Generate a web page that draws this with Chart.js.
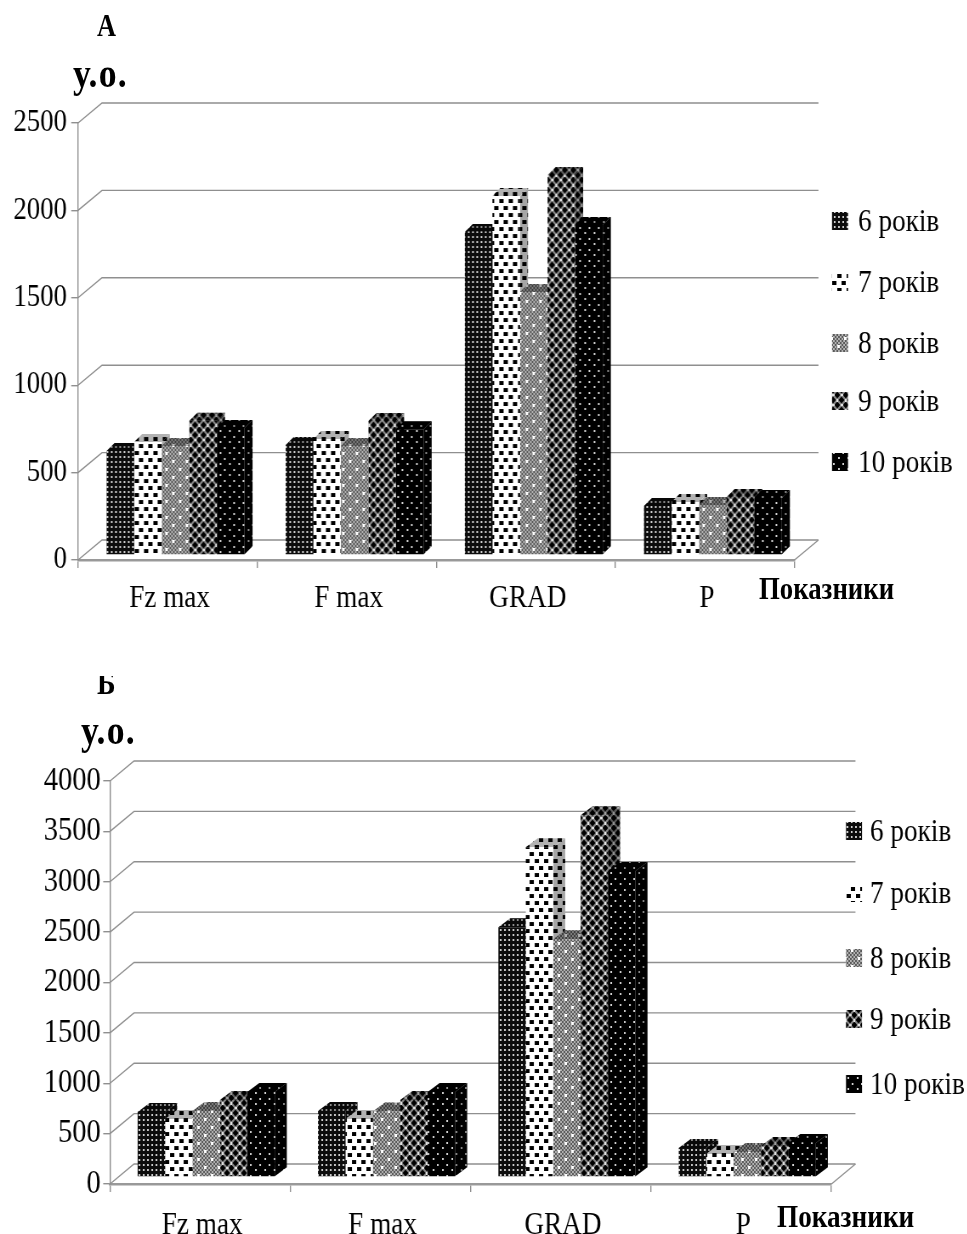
<!DOCTYPE html>
<html>
<head>
<meta charset="utf-8">
<script src="https://cdn.jsdelivr.net/npm/chart.js@4"></script>
<style>
  html, body { margin: 0; padding: 0; background: #fff; overflow: hidden; height: 1234px; }
  #page { position: absolute; left: 0; top: 0; height: 1234px; transform-origin: 0 0; }
  #page canvas { position: absolute; left: 0; }
  .lbl { position: absolute; font-family: "Liberation Serif", serif; font-weight: bold; color: #000; white-space: nowrap; line-height: 1; }
</style>
</head>
<body>
<div id="page">
  <canvas id="chartA"></canvas>
  <canvas id="chartB"></canvas>
</div>
<script>
// Дані
const categories = ["Fz max", "F max", "GRAD", "P"];
const seriesNames = ["6 років", "7 років", "8 років", "9 років", "10 років"];

const panelA6 = [595, 630, 1848, 280];
const panelA7 = [646, 663, 2054, 303];
const panelA8 = [624, 624, 1505, 286];
const panelA9 = [768, 766, 2174, 332];
const panelA10 = [726, 720, 1888, 326];

const panelB6 = [645, 655, 2480, 288];
const panelB7 = [575, 575, 3274, 228];
const panelB8 = [655, 650, 2361, 248];
const panelB9 = [764, 764, 3591, 307];
const panelB10 = [843, 843, 3036, 337];

// Оригінал стиснутий по горизонталі, тож стискаємо всю сторінку
const SQUEEZE = 0.85;
const X = v => v / SQUEEZE;
const page = document.getElementById('page');
page.style.width = X(967) + 'px';
page.style.transform = 'scaleX(' + SQUEEZE + ')';

const SERIF = '"Liberation Serif", serif';
const GREY = '#8f8f8f';

function tile(w, h, paint) {
  const c = document.createElement('canvas');
  c.width = w;
  c.height = h;
  const g = c.getContext('2d');
  paint(g);
  return g.createPattern(c, 'repeat');
}

function rects(g, color, w, h, spots) {
  g.fillStyle = color;
  spots.forEach(p => g.fillRect(p[0], p[1], w, h));
}

function diamond(g, color, cx, cy, r) {
  g.fillStyle = color;
  g.beginPath();
  g.moveTo(cx - r, cy);
  g.lineTo(cx, cy - r);
  g.lineTo(cx + r, cy);
  g.lineTo(cx, cy + r);
  g.closePath();
  g.fill();
}

const patterns = [
  // 6 років
  tile(5, 5, g => {
    g.fillStyle = '#0c0c0c';
    g.fillRect(0, 0, 5, 5);
    rects(g, '#d0d0d0', 2, 2, [[1, 1]]);
  }),
  // 7 років
  tile(11, 14, g => {
    g.fillStyle = '#fff';
    g.fillRect(0, 0, 11, 14);
    rects(g, '#000', 5, 4, [[0, 1], [6, 8]]);
  }),
  // 8 років
  tile(16, 16, g => {
    for (let i = 0; i < 8; i++) {
      for (let j = 0; j < 8; j++) {
        g.fillStyle = (i + j) % 2 ? '#5a5a5a' : '#b4b4b4';
        g.fillRect(i * 2, j * 2, 2, 2);
      }
    }
    rects(g, '#fff', 3, 3, [[1, 1], [9, 9]]);
  }),
  // 9 років
  tile(10, 10, g => {
    g.fillStyle = '#8a8a8a';
    g.fillRect(0, 0, 10, 10);
    [[0, 0], [10, 0], [0, 10], [10, 10], [5, 5]].forEach(p => diamond(g, '#000', p[0], p[1], 3.5));
    rects(g, '#e4e4e4', 2, 2, [[4, 0], [4, 9], [0, 4], [9, 4]]);
  }),
  // 10 років
  tile(11, 11, g => {
    g.fillStyle = '#000';
    g.fillRect(0, 0, 11, 11);
    rects(g, '#d4d4d4', 2, 2, [[1, 1], [7, 6]]);
  })
];

// Задня стінка, підлога та бокові грані стовпців
const depthPlugin = {
  id: 'depth',
  beforeDatasetsDraw(chart, args, o) {
    const ctx = chart.ctx;
    const y = chart.scales.y;
    const area = chart.chartArea;
    ctx.save();
    ctx.strokeStyle = GREY;
    ctx.lineWidth = 1.4;
    y.ticks.forEach(t => {
      const py = y.getPixelForValue(t.value);
      ctx.beginPath();
      ctx.moveTo(area.left, py);
      ctx.lineTo(area.left + o.wallX, py - o.wallY);
      ctx.lineTo(area.right + o.wallX, py - o.wallY);
      ctx.stroke();
    });
    ctx.beginPath();
    ctx.moveTo(area.right, area.bottom);
    ctx.lineTo(area.right + o.wallX, area.bottom - o.wallY);
    ctx.stroke();
    ctx.restore();

    ctx.save();
    ctx.translate(o.shiftX, -o.shiftY);
    chart.data.datasets.forEach((ds, i) => {
      chart.getDatasetMeta(i).data.forEach(bar => {
        const x0 = bar.x - bar.width / 2;
        const x1 = bar.x + bar.width / 2;
        const face = (points, shade) => {
          ctx.beginPath();
          points.forEach((p, n) => n ? ctx.lineTo(p[0], p[1]) : ctx.moveTo(p[0], p[1]));
          ctx.closePath();
          ctx.fillStyle = ds.backgroundColor;
          ctx.fill();
          ctx.fillStyle = shade;
          ctx.fill();
        };
        face([[x1, bar.y], [x1 + o.barX, bar.y - o.barY], [x1 + o.barX, bar.base - o.barY], [x1, bar.base]], 'rgba(0,0,0,0.35)');
        face([[x0, bar.y], [x0 + o.barX, bar.y - o.barY], [x1 + o.barX, bar.y - o.barY], [x1, bar.y]], 'rgba(0,0,0,0.3)');
      });
    });
    ctx.restore();

    ctx.save();
    ctx.translate(o.shiftX, -o.shiftY);
  },
  afterDatasetsDraw(chart) {
    chart.ctx.restore();
  },
  afterDraw(chart, args, o) {
    const ctx = chart.ctx;
    ctx.save();
    ctx.textBaseline = 'middle';
    ctx.textAlign = 'left';
    ctx.font = o.legendFont + 'px ' + SERIF;
    chart.data.datasets.forEach((ds, i) => {
      const ly = o.legendY[i];
      ctx.fillStyle = ds.backgroundColor;
      ctx.fillRect(o.legendX, ly - 9, X(16), 18);
      ctx.fillStyle = '#000';
      ctx.fillText(ds.label, o.legendX + o.legendGap, ly + 2);
    });
    ctx.restore();
  }
};

function buildPanel(id, top, height, values, maxValue, geo) {
  const canvas = document.getElementById(id);
  canvas.style.top = top + 'px';
  canvas.width = X(967);
  canvas.height = height;
  return new Chart(canvas, {
    type: 'bar',
    data: {
      labels: categories,
      datasets: seriesNames.map((name, i) => ({
        label: name,
        data: values[i],
        backgroundColor: patterns[i],
        borderWidth: 0,
        clip: false
      }))
    },
    options: {
      responsive: false,
      animation: false,
      events: [],
      datasets: { bar: { categoryPercentage: geo.groupShare, barPercentage: 1 } },
      layout: { padding: { left: 0, top: geo.top - top, right: X(967 - geo.right), bottom: 0 } },
      plugins: {
        legend: { display: false },
        tooltip: { enabled: false },
        depth: {
          wallX: X(geo.wallX), wallY: geo.wallY,
          shiftX: X(geo.shiftX), shiftY: geo.shiftY,
          barX: X(geo.barX), barY: geo.barY,
          legendX: X(geo.legendX), legendGap: X(geo.legendGap), legendY: geo.legendY.map(v => v - top),
          legendFont: 32
        }
      },
      scales: {
        x: {
          afterFit: s => { s.height = top + height - geo.zero; },
          grid: { drawOnChartArea: false, color: GREY, tickLength: 8, lineWidth: 1.4 },
          border: { color: '#999', width: 2.4 },
          ticks: { color: '#000', font: { family: SERIF, size: 32 }, padding: geo.labelPad, labelOffset: X(2), maxRotation: 0 }
        },
        y: {
          min: 0,
          max: maxValue,
          afterFit: s => { s.width = X(geo.left); },
          ticks: {
            stepSize: 500,
            color: '#000',
            font: { family: SERIF, size: geo.tickFont },
            padding: geo.tickPad,
            callback: v => String(v)
          },
          grid: { drawOnChartArea: false, color: GREY, tickLength: 8, lineWidth: 1.4 },
          border: { color: GREY, width: 1.4 }
        }
      }
    },
    plugins: [depthPlugin]
  });
}

buildPanel('chartA', 0, 620, [panelA6, panelA7, panelA8, panelA9, panelA10], 2500, {
  left: 78, right: 795, top: 123, zero: 560,
  wallX: 24, wallY: 20, shiftX: 8, shiftY: 5, barX: 8, barY: 8,
  groupShare: 0.77, labelPad: 11, tickFont: 31.5, tickPad: 5,
  legendX: 832, legendGap: 26, legendY: [221, 282, 343, 401, 462]
});

buildPanel('chartB', 620, 614, [panelB6, panelB7, panelB8, panelB9, panelB10], 4000, {
  left: 110, right: 832, top: 781, zero: 1184,
  wallX: 24, wallY: 20, shiftX: 6, shiftY: 7, barX: 12, barY: 9,
  groupShare: 0.76, labelPad: 14, tickFont: 33.5, tickPad: 3,
  legendX: 846, legendGap: 24, legendY: [831, 893, 958, 1019, 1084]
});

// Написи поза межами осей
const notes = [
  ["А", 97, 10, 31, 0, 0],
  ["у.о.", 73, 52, 42, 0, 1.5],
  ["Показники", 759, 573, 31.5, 0, 0],
  ["Б", 97, 667, 33, 9, 0],
  ["у.о.", 81, 709, 42, 0, 1.5],
  ["Показники", 777, 1200, 32, 0, 0]
];
notes.forEach(n => {
  const d = document.createElement('div');
  d.className = 'lbl';
  d.textContent = n[0];
  d.style.left = X(n[1]) + 'px';
  d.style.top = n[2] + 'px';
  d.style.fontSize = n[3] + 'px';
  if (n[4]) d.style.clipPath = 'inset(' + n[4] + 'px 0 0 0)';
  if (n[5]) d.style.letterSpacing = n[5] + 'px';
  page.appendChild(d);
});
</script>
</body>
</html>
